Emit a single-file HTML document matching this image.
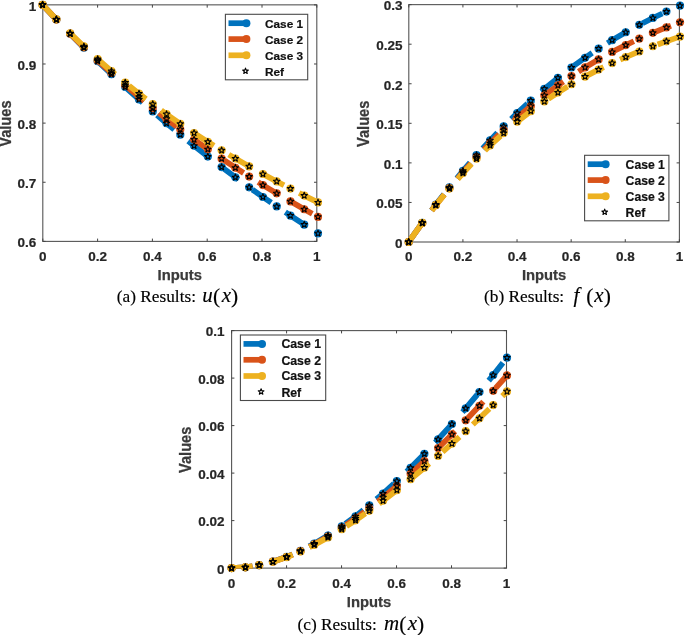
<!DOCTYPE html>
<html lang="en"><head><meta charset="utf-8"><title>Results</title>
<style>
html,body{margin:0;padding:0;background:#fff}
body{width:685px;height:635px;overflow:hidden}
svg{display:block;will-change:transform}
</style></head><body>
<svg width="685" height="635" viewBox="0 0 685 635">
<rect width="685" height="635" fill="#fff"/>
<clipPath id="clipa"><rect x="42.5" y="4.55" width="274.6" height="237.15"/></clipPath>
<rect x="42.8" y="4.85" width="274" height="236.55" fill="none" stroke="#555555" stroke-width="1.1"/>
<path d="M42.8 241.4v-2.8M42.8 4.85v2.8M97.6 241.4v-2.8M97.6 4.85v2.8M152.4 241.4v-2.8M152.4 4.85v2.8M207.2 241.4v-2.8M207.2 4.85v2.8M262 241.4v-2.8M262 4.85v2.8M316.8 241.4v-2.8M316.8 4.85v2.8M42.8 241.4h2.8M316.8 241.4h-2.8M42.8 182.26h2.8M316.8 182.26h-2.8M42.8 123.12h2.8M316.8 123.12h-2.8M42.8 63.99h2.8M316.8 63.99h-2.8M42.8 4.85h2.8M316.8 4.85h-2.8" stroke="#444" stroke-width="1" fill="none"/>
<g font-family="'Liberation Sans', sans-serif" font-weight="bold" font-size="13.5px" fill="#262626" stroke="#262626" stroke-width="0.2">
<text x="42.8" y="261" text-anchor="middle">0</text>
<text x="97.6" y="261" text-anchor="middle">0.2</text>
<text x="152.4" y="261" text-anchor="middle">0.4</text>
<text x="207.2" y="261" text-anchor="middle">0.6</text>
<text x="262" y="261" text-anchor="middle">0.8</text>
<text x="316.8" y="261" text-anchor="middle">1</text>
<text x="36.2" y="247.2" text-anchor="end">0.6</text>
<text x="36.2" y="188.06" text-anchor="end">0.7</text>
<text x="36.2" y="128.92" text-anchor="end">0.8</text>
<text x="36.2" y="69.79" text-anchor="end">0.9</text>
<text x="36.2" y="10.65" text-anchor="end">1</text>
</g>
<g font-family="'Liberation Sans', sans-serif" font-weight="bold" font-size="14.6px" fill="#3a3a3a" stroke="#3a3a3a" stroke-width="0.25">
<text x="179.8" y="280" font-size="14.8px" text-anchor="middle">Inputs</text>
<text transform="translate(11 123.62) rotate(-90) scale(1 1.1)" text-anchor="middle">Values</text>
</g>
<polyline clip-path="url(#clipa)" points="42.6,4.85 56.37,19.52 70.14,33.78 83.91,47.65 97.68,61.15 111.45,74.26 125.22,87.02 138.99,99.43 152.76,111.5 166.53,123.23 180.3,134.65 194.07,145.76 207.84,156.56 221.61,167.08 235.38,177.32 249.15,187.29 262.92,197 276.69,206.46 290.46,215.68 304.23,224.68 318,233.45" fill="none" stroke="#0072BD" stroke-width="5.7" stroke-dasharray="21 17.8 21 18.7 22 18 21.5 19 22.5 18 23 17.3 23 17.2 23 17 22.7 17.3 22.7 17.3 22.7 17.3" stroke-linejoin="round"/>
<g fill="#0072BD"><circle cx="42.6" cy="4.85" r="4.1"/><circle cx="56.37" cy="19.52" r="4.1"/><circle cx="70.14" cy="33.78" r="4.1"/><circle cx="83.91" cy="47.65" r="4.1"/><circle cx="97.68" cy="61.15" r="4.1"/><circle cx="111.45" cy="74.26" r="4.1"/><circle cx="125.22" cy="87.02" r="4.1"/><circle cx="138.99" cy="99.43" r="4.1"/><circle cx="152.76" cy="111.5" r="4.1"/><circle cx="166.53" cy="123.23" r="4.1"/><circle cx="180.3" cy="134.65" r="4.1"/><circle cx="194.07" cy="145.76" r="4.1"/><circle cx="207.84" cy="156.56" r="4.1"/><circle cx="221.61" cy="167.08" r="4.1"/><circle cx="235.38" cy="177.32" r="4.1"/><circle cx="249.15" cy="187.29" r="4.1"/><circle cx="262.92" cy="197" r="4.1"/><circle cx="276.69" cy="206.46" r="4.1"/><circle cx="290.46" cy="215.68" r="4.1"/><circle cx="304.23" cy="224.68" r="4.1"/><circle cx="318" cy="233.45" r="4.1"/></g>
<polyline clip-path="url(#clipa)" points="42.6,4.85 56.37,19.55 70.14,33.69 83.91,47.3 97.68,60.41 111.45,73.02 125.22,85.16 138.99,96.85 152.76,108.11 166.53,118.96 180.3,129.41 194.07,139.5 207.84,149.24 221.61,158.64 235.38,167.74 249.15,176.54 262.92,185.08 276.69,193.36 290.46,201.41 304.23,209.26 318,216.91" fill="none" stroke="#D95319" stroke-width="5.7" stroke-dasharray="21 17.8 21 18.7 22 18 21.5 19 22.5 18 23 17.3 23 17.2 23 17 22.7 17.3 22.7 17.3 22.7 17.3" stroke-linejoin="round"/>
<g fill="#D95319"><circle cx="42.6" cy="4.85" r="4.1"/><circle cx="56.37" cy="19.55" r="4.1"/><circle cx="70.14" cy="33.69" r="4.1"/><circle cx="83.91" cy="47.3" r="4.1"/><circle cx="97.68" cy="60.41" r="4.1"/><circle cx="111.45" cy="73.02" r="4.1"/><circle cx="125.22" cy="85.16" r="4.1"/><circle cx="138.99" cy="96.85" r="4.1"/><circle cx="152.76" cy="108.11" r="4.1"/><circle cx="166.53" cy="118.96" r="4.1"/><circle cx="180.3" cy="129.41" r="4.1"/><circle cx="194.07" cy="139.5" r="4.1"/><circle cx="207.84" cy="149.24" r="4.1"/><circle cx="221.61" cy="158.64" r="4.1"/><circle cx="235.38" cy="167.74" r="4.1"/><circle cx="249.15" cy="176.54" r="4.1"/><circle cx="262.92" cy="185.08" r="4.1"/><circle cx="276.69" cy="193.36" r="4.1"/><circle cx="290.46" cy="201.41" r="4.1"/><circle cx="304.23" cy="209.26" r="4.1"/><circle cx="318" cy="216.91" r="4.1"/></g>
<polyline clip-path="url(#clipa)" points="42.6,4.85 56.37,19.37 70.14,33.23 83.91,46.46 97.68,59.08 111.45,71.14 125.22,82.65 138.99,93.64 152.76,104.14 166.53,114.19 180.3,123.8 194.07,133.01 207.84,141.85 221.61,150.34 235.38,158.51 249.15,166.39 262.92,174.02 276.69,181.41 290.46,188.59 304.23,195.6 318,202.47" fill="none" stroke="#EDB120" stroke-width="5.7" stroke-dasharray="21 17.8 21 18.7 22 18 21.5 19 22.5 18 23 17.3 23 17.2 23 17 22.7 17.3 22.7 17.3 22.7 17.3" stroke-linejoin="round"/>
<g fill="#EDB120"><circle cx="42.6" cy="4.85" r="4.1"/><circle cx="56.37" cy="19.37" r="4.1"/><circle cx="70.14" cy="33.23" r="4.1"/><circle cx="83.91" cy="46.46" r="4.1"/><circle cx="97.68" cy="59.08" r="4.1"/><circle cx="111.45" cy="71.14" r="4.1"/><circle cx="125.22" cy="82.65" r="4.1"/><circle cx="138.99" cy="93.64" r="4.1"/><circle cx="152.76" cy="104.14" r="4.1"/><circle cx="166.53" cy="114.19" r="4.1"/><circle cx="180.3" cy="123.8" r="4.1"/><circle cx="194.07" cy="133.01" r="4.1"/><circle cx="207.84" cy="141.85" r="4.1"/><circle cx="221.61" cy="150.34" r="4.1"/><circle cx="235.38" cy="158.51" r="4.1"/><circle cx="249.15" cy="166.39" r="4.1"/><circle cx="262.92" cy="174.02" r="4.1"/><circle cx="276.69" cy="181.41" r="4.1"/><circle cx="290.46" cy="188.59" r="4.1"/><circle cx="304.23" cy="195.6" r="4.1"/><circle cx="318" cy="202.47" r="4.1"/></g>
<g fill="none" stroke="#000" stroke-width="1.1" stroke-linejoin="round">
<polygon points="42.6,1.5 43.42,3.72 45.79,3.81 43.93,5.28 44.57,7.56 42.6,6.25 40.63,7.56 41.27,5.28 39.41,3.81 41.78,3.72"/>
<polygon points="56.37,16.17 57.19,18.38 59.56,18.48 57.7,19.95 58.34,22.23 56.37,20.92 54.4,22.23 55.04,19.95 53.18,18.48 55.55,18.38"/>
<polygon points="70.14,30.43 70.96,32.65 73.33,32.75 71.47,34.21 72.11,36.49 70.14,35.18 68.17,36.49 68.81,34.21 66.95,32.75 69.32,32.65"/>
<polygon points="83.91,44.3 84.73,46.52 87.1,46.62 85.24,48.09 85.88,50.36 83.91,49.05 81.94,50.36 82.58,48.09 80.72,46.62 83.09,46.52"/>
<polygon points="97.68,57.8 98.5,60.01 100.87,60.11 99.01,61.58 99.65,63.86 97.68,62.55 95.71,63.86 96.35,61.58 94.49,60.11 96.86,60.01"/>
<polygon points="111.45,70.91 112.27,73.13 114.64,73.23 112.78,74.7 113.42,76.98 111.45,75.66 109.48,76.98 110.12,74.7 108.26,73.23 110.63,73.13"/>
<polygon points="125.22,83.67 126.04,85.89 128.41,85.99 126.55,87.46 127.19,89.73 125.22,88.42 123.25,89.73 123.89,87.46 122.03,85.99 124.4,85.89"/>
<polygon points="138.99,96.08 139.81,98.3 142.18,98.4 140.32,99.86 140.96,102.14 138.99,100.83 137.02,102.14 137.66,99.86 135.8,98.4 138.17,98.3"/>
<polygon points="152.76,108.15 153.58,110.36 155.95,110.46 154.09,111.93 154.73,114.21 152.76,112.9 150.79,114.21 151.43,111.93 149.57,110.46 151.94,110.36"/>
<polygon points="166.53,119.88 167.35,122.1 169.72,122.2 167.86,123.67 168.5,125.94 166.53,124.63 164.56,125.94 165.2,123.67 163.34,122.2 165.71,122.1"/>
<polygon points="180.3,131.3 181.12,133.52 183.49,133.61 181.63,135.08 182.27,137.36 180.3,136.05 178.33,137.36 178.97,135.08 177.11,133.61 179.48,133.52"/>
<polygon points="194.07,142.41 194.89,144.62 197.26,144.72 195.4,146.19 196.04,148.47 194.07,147.16 192.1,148.47 192.74,146.19 190.88,144.72 193.25,144.62"/>
<polygon points="207.84,153.21 208.66,155.43 211.03,155.53 209.17,156.99 209.81,159.27 207.84,157.96 205.87,159.27 206.51,156.99 204.65,155.53 207.02,155.43"/>
<polygon points="221.61,163.73 222.43,165.95 224.8,166.04 222.94,167.51 223.58,169.79 221.61,168.48 219.64,169.79 220.28,167.51 218.42,166.04 220.79,165.95"/>
<polygon points="235.38,173.97 236.2,176.18 238.57,176.28 236.71,177.75 237.35,180.03 235.38,178.72 233.41,180.03 234.05,177.75 232.19,176.28 234.56,176.18"/>
<polygon points="249.15,183.94 249.97,186.15 252.34,186.25 250.48,187.72 251.12,190 249.15,188.69 247.18,190 247.82,187.72 245.96,186.25 248.33,186.15"/>
<polygon points="262.92,193.65 263.74,195.86 266.11,195.96 264.25,197.43 264.89,199.71 262.92,198.4 260.95,199.71 261.59,197.43 259.73,195.96 262.1,195.86"/>
<polygon points="276.69,203.11 277.51,205.32 279.88,205.42 278.02,206.89 278.66,209.17 276.69,207.86 274.72,209.17 275.36,206.89 273.5,205.42 275.87,205.32"/>
<polygon points="290.46,212.33 291.28,214.55 293.65,214.64 291.79,216.11 292.43,218.39 290.46,217.08 288.49,218.39 289.13,216.11 287.27,214.64 289.64,214.55"/>
<polygon points="304.23,221.33 305.05,223.54 307.42,223.64 305.56,225.11 306.2,227.39 304.23,226.08 302.26,227.39 302.9,225.11 301.04,223.64 303.41,223.54"/>
<polygon points="318,230.1 318.82,232.32 321.19,232.42 319.33,233.89 319.97,236.16 318,234.85 316.03,236.16 316.67,233.89 314.81,232.42 317.18,232.32"/>
<polygon points="42.6,1.5 43.42,3.72 45.79,3.81 43.93,5.28 44.57,7.56 42.6,6.25 40.63,7.56 41.27,5.28 39.41,3.81 41.78,3.72"/>
<polygon points="56.37,16.2 57.19,18.41 59.56,18.51 57.7,19.98 58.34,22.26 56.37,20.95 54.4,22.26 55.04,19.98 53.18,18.51 55.55,18.41"/>
<polygon points="70.14,30.34 70.96,32.56 73.33,32.66 71.47,34.12 72.11,36.4 70.14,35.09 68.17,36.4 68.81,34.12 66.95,32.66 69.32,32.56"/>
<polygon points="83.91,43.95 84.73,46.17 87.1,46.27 85.24,47.74 85.88,50.01 83.91,48.7 81.94,50.01 82.58,47.74 80.72,46.27 83.09,46.17"/>
<polygon points="97.68,57.06 98.5,59.27 100.87,59.37 99.01,60.84 99.65,63.12 97.68,61.81 95.71,63.12 96.35,60.84 94.49,59.37 96.86,59.27"/>
<polygon points="111.45,69.67 112.27,71.89 114.64,71.98 112.78,73.45 113.42,75.73 111.45,74.42 109.48,75.73 110.12,73.45 108.26,71.98 110.63,71.89"/>
<polygon points="125.22,81.81 126.04,84.03 128.41,84.12 126.55,85.59 127.19,87.87 125.22,86.56 123.25,87.87 123.89,85.59 122.03,84.12 124.4,84.03"/>
<polygon points="138.99,93.5 139.81,95.72 142.18,95.81 140.32,97.28 140.96,99.56 138.99,98.25 137.02,99.56 137.66,97.28 135.8,95.81 138.17,95.72"/>
<polygon points="152.76,104.76 153.58,106.97 155.95,107.07 154.09,108.54 154.73,110.82 152.76,109.51 150.79,110.82 151.43,108.54 149.57,107.07 151.94,106.97"/>
<polygon points="166.53,115.61 167.35,117.82 169.72,117.92 167.86,119.39 168.5,121.67 166.53,120.36 164.56,121.67 165.2,119.39 163.34,117.92 165.71,117.82"/>
<polygon points="180.3,126.06 181.12,128.28 183.49,128.38 181.63,129.85 182.27,132.12 180.3,130.81 178.33,132.12 178.97,129.85 177.11,128.38 179.48,128.28"/>
<polygon points="194.07,136.15 194.89,138.37 197.26,138.46 195.4,139.93 196.04,142.21 194.07,140.9 192.1,142.21 192.74,139.93 190.88,138.46 193.25,138.37"/>
<polygon points="207.84,145.89 208.66,148.1 211.03,148.2 209.17,149.67 209.81,151.95 207.84,150.64 205.87,151.95 206.51,149.67 204.65,148.2 207.02,148.1"/>
<polygon points="221.61,155.29 222.43,157.51 224.8,157.61 222.94,159.07 223.58,161.35 221.61,160.04 219.64,161.35 220.28,159.07 218.42,157.61 220.79,157.51"/>
<polygon points="235.38,164.39 236.2,166.6 238.57,166.7 236.71,168.17 237.35,170.45 235.38,169.14 233.41,170.45 234.05,168.17 232.19,166.7 234.56,166.6"/>
<polygon points="249.15,173.19 249.97,175.41 252.34,175.51 250.48,176.97 251.12,179.25 249.15,177.94 247.18,179.25 247.82,176.97 245.96,175.51 248.33,175.41"/>
<polygon points="262.92,181.73 263.74,183.94 266.11,184.04 264.25,185.51 264.89,187.79 262.92,186.48 260.95,187.79 261.59,185.51 259.73,184.04 262.1,183.94"/>
<polygon points="276.69,190.01 277.51,192.23 279.88,192.33 278.02,193.79 278.66,196.07 276.69,194.76 274.72,196.07 275.36,193.79 273.5,192.33 275.87,192.23"/>
<polygon points="290.46,198.06 291.28,200.28 293.65,200.38 291.79,201.85 292.43,204.13 290.46,202.81 288.49,204.13 289.13,201.85 287.27,200.38 289.64,200.28"/>
<polygon points="304.23,205.91 305.05,208.13 307.42,208.22 305.56,209.69 306.2,211.97 304.23,210.66 302.26,211.97 302.9,209.69 301.04,208.22 303.41,208.13"/>
<polygon points="318,213.56 318.82,215.78 321.19,215.88 319.33,217.35 319.97,219.62 318,218.31 316.03,219.62 316.67,217.35 314.81,215.88 317.18,215.78"/>
<polygon points="42.6,1.5 43.42,3.72 45.79,3.81 43.93,5.28 44.57,7.56 42.6,6.25 40.63,7.56 41.27,5.28 39.41,3.81 41.78,3.72"/>
<polygon points="56.37,16.02 57.19,18.24 59.56,18.33 57.7,19.8 58.34,22.08 56.37,20.77 54.4,22.08 55.04,19.8 53.18,18.33 55.55,18.24"/>
<polygon points="70.14,29.88 70.96,32.1 73.33,32.19 71.47,33.66 72.11,35.94 70.14,34.63 68.17,35.94 68.81,33.66 66.95,32.19 69.32,32.1"/>
<polygon points="83.91,43.11 84.73,45.32 87.1,45.42 85.24,46.89 85.88,49.17 83.91,47.86 81.94,49.17 82.58,46.89 80.72,45.42 83.09,45.32"/>
<polygon points="97.68,55.73 98.5,57.95 100.87,58.05 99.01,59.52 99.65,61.79 97.68,60.48 95.71,61.79 96.35,59.52 94.49,58.05 96.86,57.95"/>
<polygon points="111.45,67.79 112.27,70.01 114.64,70.1 112.78,71.57 113.42,73.85 111.45,72.54 109.48,73.85 110.12,71.57 108.26,70.1 110.63,70.01"/>
<polygon points="125.22,79.3 126.04,81.51 128.41,81.61 126.55,83.08 127.19,85.36 125.22,84.05 123.25,85.36 123.89,83.08 122.03,81.61 124.4,81.51"/>
<polygon points="138.99,90.29 139.81,92.51 142.18,92.6 140.32,94.07 140.96,96.35 138.99,95.04 137.02,96.35 137.66,94.07 135.8,92.6 138.17,92.51"/>
<polygon points="152.76,100.79 153.58,103.01 155.95,103.11 154.09,104.58 154.73,106.85 152.76,105.54 150.79,106.85 151.43,104.58 149.57,103.11 151.94,103.01"/>
<polygon points="166.53,110.84 167.35,113.06 169.72,113.15 167.86,114.62 168.5,116.9 166.53,115.59 164.56,116.9 165.2,114.62 163.34,113.15 165.71,113.06"/>
<polygon points="180.3,120.45 181.12,122.67 183.49,122.77 181.63,124.23 182.27,126.51 180.3,125.2 178.33,126.51 178.97,124.23 177.11,122.77 179.48,122.67"/>
<polygon points="194.07,129.66 194.89,131.88 197.26,131.98 195.4,133.44 196.04,135.72 194.07,134.41 192.1,135.72 192.74,133.44 190.88,131.98 193.25,131.88"/>
<polygon points="207.84,138.5 208.66,140.71 211.03,140.81 209.17,142.28 209.81,144.56 207.84,143.25 205.87,144.56 206.51,142.28 204.65,140.81 207.02,140.71"/>
<polygon points="221.61,146.99 222.43,149.2 224.8,149.3 222.94,150.77 223.58,153.05 221.61,151.74 219.64,153.05 220.28,150.77 218.42,149.3 220.79,149.2"/>
<polygon points="235.38,155.16 236.2,157.38 238.57,157.47 236.71,158.94 237.35,161.22 235.38,159.91 233.41,161.22 234.05,158.94 232.19,157.47 234.56,157.38"/>
<polygon points="249.15,163.04 249.97,165.26 252.34,165.36 250.48,166.83 251.12,169.1 249.15,167.79 247.18,169.1 247.82,166.83 245.96,165.36 248.33,165.26"/>
<polygon points="262.92,170.67 263.74,172.88 266.11,172.98 264.25,174.45 264.89,176.73 262.92,175.42 260.95,176.73 261.59,174.45 259.73,172.98 262.1,172.88"/>
<polygon points="276.69,178.06 277.51,180.27 279.88,180.37 278.02,181.84 278.66,184.12 276.69,182.81 274.72,184.12 275.36,181.84 273.5,180.37 275.87,180.27"/>
<polygon points="290.46,185.24 291.28,187.46 293.65,187.56 291.79,189.03 292.43,191.3 290.46,189.99 288.49,191.3 289.13,189.03 287.27,187.56 289.64,187.46"/>
<polygon points="304.23,192.25 305.05,194.47 307.42,194.57 305.56,196.04 306.2,198.31 304.23,197 302.26,198.31 302.9,196.04 301.04,194.57 303.41,194.47"/>
<polygon points="318,199.12 318.82,201.34 321.19,201.43 319.33,202.9 319.97,205.18 318,203.87 316.03,205.18 316.67,202.9 314.81,201.43 317.18,201.34"/>
</g>
<rect x="225.4" y="14.3" width="82.3" height="65.5" fill="#fff" stroke="#4a4a4a" stroke-width="1.1"/>
<path d="M228.5 23.2H246.4" stroke="#0072BD" stroke-width="5.7"/>
<circle cx="246.4" cy="23.2" r="3.9999999999999996" fill="#0072BD"/>
<path d="M228.5 39.1H246.4" stroke="#D95319" stroke-width="5.7"/>
<circle cx="246.4" cy="39.1" r="3.9999999999999996" fill="#D95319"/>
<path d="M228.5 55.3H246.4" stroke="#EDB120" stroke-width="5.7"/>
<circle cx="246.4" cy="55.3" r="3.9999999999999996" fill="#EDB120"/>
<g fill="none" stroke="#000" stroke-width="1.1" stroke-linejoin="round"><polygon points="245.5,68.1 246.23,70.09 248.35,70.17 246.69,71.49 247.26,73.53 245.5,72.35 243.74,73.53 244.31,71.49 242.65,70.17 244.77,70.09"/></g>
<g font-family="'Liberation Sans', sans-serif" font-weight="bold" font-size="11.8px" fill="#111" stroke="#111" stroke-width="0.2">
<text x="265" y="28">Case 1</text>
<text x="265" y="44">Case 2</text>
<text x="265" y="60">Case 3</text>
<text x="265" y="76">Ref</text>
</g>
<text x="116.8" y="302" font-family="'Liberation Serif', serif" font-size="17.3px" fill="#000" stroke="#000" stroke-width="0.15">(a) Results:</text>
<g font-family="'Liberation Serif', serif" fill="#000" stroke="#000" stroke-width="0.15">
<text x="202.3" y="302" font-size="21px" font-style="italic">u</text>
<text x="213" y="302.6" font-size="21.5px">(</text>
<text x="221.7" y="302" font-size="21px" font-style="italic">x</text>
<text x="231" y="302.6" font-size="21.5px">)</text>
</g>
<clipPath id="clipb"><rect x="408.5" y="4.33" width="271.2" height="237.97"/></clipPath>
<rect x="408.8" y="4.63" width="270.6" height="237.37" fill="none" stroke="#555555" stroke-width="1.1"/>
<path d="M408.8 242v-2.8M408.8 4.63v2.8M462.92 242v-2.8M462.92 4.63v2.8M517.04 242v-2.8M517.04 4.63v2.8M571.16 242v-2.8M571.16 4.63v2.8M625.28 242v-2.8M625.28 4.63v2.8M679.4 242v-2.8M679.4 4.63v2.8M408.8 242h2.8M679.4 242h-2.8M408.8 202.44h2.8M679.4 202.44h-2.8M408.8 162.88h2.8M679.4 162.88h-2.8M408.8 123.31h2.8M679.4 123.31h-2.8M408.8 83.75h2.8M679.4 83.75h-2.8M408.8 44.19h2.8M679.4 44.19h-2.8M408.8 4.63h2.8M679.4 4.63h-2.8" stroke="#444" stroke-width="1" fill="none"/>
<g font-family="'Liberation Sans', sans-serif" font-weight="bold" font-size="13.5px" fill="#262626" stroke="#262626" stroke-width="0.2">
<text x="408.8" y="261" text-anchor="middle">0</text>
<text x="462.92" y="261" text-anchor="middle">0.2</text>
<text x="517.04" y="261" text-anchor="middle">0.4</text>
<text x="571.16" y="261" text-anchor="middle">0.6</text>
<text x="625.28" y="261" text-anchor="middle">0.8</text>
<text x="679.4" y="261" text-anchor="middle">1</text>
<text x="402.5" y="247.8" text-anchor="end">0</text>
<text x="402.5" y="208.24" text-anchor="end">0.05</text>
<text x="402.5" y="168.68" text-anchor="end">0.1</text>
<text x="402.5" y="129.12" text-anchor="end">0.15</text>
<text x="402.5" y="89.55" text-anchor="end">0.2</text>
<text x="402.5" y="49.99" text-anchor="end">0.25</text>
<text x="402.5" y="10.43" text-anchor="end">0.3</text>
</g>
<g font-family="'Liberation Sans', sans-serif" font-weight="bold" font-size="14.6px" fill="#3a3a3a" stroke="#3a3a3a" stroke-width="0.25">
<text x="544.1" y="280" font-size="14.8px" text-anchor="middle">Inputs</text>
<text transform="translate(369.2 123.81) rotate(-90) scale(1 1.1)" text-anchor="middle">Values</text>
</g>
<polyline clip-path="url(#clipb)" points="408.7,242 422.26,222.84 435.83,204.6 449.39,187.26 462.96,170.79 476.52,155.17 490.09,140.38 503.65,126.38 517.22,113.16 530.78,100.69 544.35,88.94 557.91,77.89 571.48,67.51 585.05,57.78 598.61,48.67 612.17,40.16 625.74,32.23 639.31,24.84 652.87,17.97 666.43,11.61 680,5.71" fill="none" stroke="#0072BD" stroke-width="5.7" stroke-dasharray="21 17.95 20.5 20.45 20.5 18.95 21.5 19.45 22.5 18.45 22.8 18.15 22.8 18.15 22.2 18.25 22 18.45 22 18.45 22 18.45" stroke-linejoin="round"/>
<g fill="#0072BD"><circle cx="408.7" cy="242" r="4.1"/><circle cx="422.26" cy="222.84" r="4.1"/><circle cx="435.83" cy="204.6" r="4.1"/><circle cx="449.39" cy="187.26" r="4.1"/><circle cx="462.96" cy="170.79" r="4.1"/><circle cx="476.52" cy="155.17" r="4.1"/><circle cx="490.09" cy="140.38" r="4.1"/><circle cx="503.65" cy="126.38" r="4.1"/><circle cx="517.22" cy="113.16" r="4.1"/><circle cx="530.78" cy="100.69" r="4.1"/><circle cx="544.35" cy="88.94" r="4.1"/><circle cx="557.91" cy="77.89" r="4.1"/><circle cx="571.48" cy="67.51" r="4.1"/><circle cx="585.05" cy="57.78" r="4.1"/><circle cx="598.61" cy="48.67" r="4.1"/><circle cx="612.17" cy="40.16" r="4.1"/><circle cx="625.74" cy="32.23" r="4.1"/><circle cx="639.31" cy="24.84" r="4.1"/><circle cx="652.87" cy="17.97" r="4.1"/><circle cx="666.43" cy="11.61" r="4.1"/><circle cx="680" cy="5.71" r="4.1"/></g>
<polyline clip-path="url(#clipb)" points="408.7,242 422.26,223.01 435.83,205.07 449.39,188.16 462.96,172.24 476.52,157.27 490.09,143.22 503.65,130.04 517.22,117.71 530.78,106.19 544.35,95.43 557.91,85.42 571.48,76.1 585.05,67.44 598.61,59.41 612.17,51.97 625.74,45.09 639.31,38.72 652.87,32.83 666.43,27.39 680,22.36" fill="none" stroke="#D95319" stroke-width="5.7" stroke-dasharray="21 17.95 20.5 20.45 20.5 18.95 21.5 19.45 22.5 18.45 22.8 18.15 22.8 18.15 22.2 18.25 22 18.45 22 18.45 22 18.45" stroke-linejoin="round"/>
<g fill="#D95319"><circle cx="408.7" cy="242" r="4.1"/><circle cx="422.26" cy="223.01" r="4.1"/><circle cx="435.83" cy="205.07" r="4.1"/><circle cx="449.39" cy="188.16" r="4.1"/><circle cx="462.96" cy="172.24" r="4.1"/><circle cx="476.52" cy="157.27" r="4.1"/><circle cx="490.09" cy="143.22" r="4.1"/><circle cx="503.65" cy="130.04" r="4.1"/><circle cx="517.22" cy="117.71" r="4.1"/><circle cx="530.78" cy="106.19" r="4.1"/><circle cx="544.35" cy="95.43" r="4.1"/><circle cx="557.91" cy="85.42" r="4.1"/><circle cx="571.48" cy="76.1" r="4.1"/><circle cx="585.05" cy="67.44" r="4.1"/><circle cx="598.61" cy="59.41" r="4.1"/><circle cx="612.17" cy="51.97" r="4.1"/><circle cx="625.74" cy="45.09" r="4.1"/><circle cx="639.31" cy="38.72" r="4.1"/><circle cx="652.87" cy="32.83" r="4.1"/><circle cx="666.43" cy="27.39" r="4.1"/><circle cx="680" cy="22.36" r="4.1"/></g>
<polyline clip-path="url(#clipb)" points="408.7,242 422.26,222.93 435.83,205.13 449.39,188.53 462.96,173.09 476.52,158.74 490.09,145.43 503.65,133.11 517.22,121.71 530.78,111.18 544.35,101.46 557.91,92.5 571.48,84.24 585.05,76.63 598.61,69.6 612.17,63.1 625.74,57.08 639.31,51.48 652.87,46.24 666.43,41.31 680,36.63" fill="none" stroke="#EDB120" stroke-width="5.7" stroke-dasharray="21 17.95 20.5 20.45 20.5 18.95 21.5 19.45 22.5 18.45 22.8 18.15 22.8 18.15 22.2 18.25 22 18.45 22 18.45 22 18.45" stroke-linejoin="round"/>
<g fill="#EDB120"><circle cx="408.7" cy="242" r="4.1"/><circle cx="422.26" cy="222.93" r="4.1"/><circle cx="435.83" cy="205.13" r="4.1"/><circle cx="449.39" cy="188.53" r="4.1"/><circle cx="462.96" cy="173.09" r="4.1"/><circle cx="476.52" cy="158.74" r="4.1"/><circle cx="490.09" cy="145.43" r="4.1"/><circle cx="503.65" cy="133.11" r="4.1"/><circle cx="517.22" cy="121.71" r="4.1"/><circle cx="530.78" cy="111.18" r="4.1"/><circle cx="544.35" cy="101.46" r="4.1"/><circle cx="557.91" cy="92.5" r="4.1"/><circle cx="571.48" cy="84.24" r="4.1"/><circle cx="585.05" cy="76.63" r="4.1"/><circle cx="598.61" cy="69.6" r="4.1"/><circle cx="612.17" cy="63.1" r="4.1"/><circle cx="625.74" cy="57.08" r="4.1"/><circle cx="639.31" cy="51.48" r="4.1"/><circle cx="652.87" cy="46.24" r="4.1"/><circle cx="666.43" cy="41.31" r="4.1"/><circle cx="680" cy="36.63" r="4.1"/></g>
<g fill="none" stroke="#000" stroke-width="1.1" stroke-linejoin="round">
<polygon points="408.7,238.65 409.52,240.87 411.89,240.96 410.03,242.43 410.67,244.71 408.7,243.4 406.73,244.71 407.37,242.43 405.51,240.96 407.88,240.87"/>
<polygon points="422.26,219.49 423.09,221.7 425.45,221.8 423.6,223.27 424.23,225.55 422.26,224.24 420.3,225.55 420.93,223.27 419.08,221.8 421.44,221.7"/>
<polygon points="435.83,201.25 436.65,203.47 439.02,203.56 437.16,205.03 437.8,207.31 435.83,206 433.86,207.31 434.5,205.03 432.64,203.56 435.01,203.47"/>
<polygon points="449.39,183.91 450.22,186.12 452.58,186.22 450.73,187.69 451.36,189.97 449.39,188.66 447.43,189.97 448.06,187.69 446.21,186.22 448.57,186.12"/>
<polygon points="462.96,167.44 463.78,169.66 466.15,169.76 464.29,171.22 464.93,173.5 462.96,172.19 460.99,173.5 461.63,171.22 459.77,169.76 462.14,169.66"/>
<polygon points="476.52,151.82 477.35,154.04 479.71,154.14 477.86,155.61 478.49,157.88 476.52,156.57 474.56,157.88 475.19,155.61 473.34,154.14 475.7,154.04"/>
<polygon points="490.09,137.03 490.91,139.25 493.28,139.34 491.42,140.81 492.06,143.09 490.09,141.78 488.12,143.09 488.76,140.81 486.9,139.34 489.27,139.25"/>
<polygon points="503.65,123.03 504.48,125.25 506.84,125.35 504.99,126.82 505.62,129.09 503.65,127.78 501.69,129.09 502.32,126.82 500.47,125.35 502.83,125.25"/>
<polygon points="517.22,109.81 518.04,112.03 520.41,112.13 518.55,113.59 519.19,115.87 517.22,114.56 515.25,115.87 515.89,113.59 514.03,112.13 516.4,112.03"/>
<polygon points="530.78,97.34 531.61,99.55 533.97,99.65 532.12,101.12 532.75,103.4 530.78,102.09 528.82,103.4 529.45,101.12 527.6,99.65 529.96,99.55"/>
<polygon points="544.35,85.59 545.17,87.8 547.54,87.9 545.68,89.37 546.32,91.65 544.35,90.34 542.38,91.65 543.02,89.37 541.16,87.9 543.53,87.8"/>
<polygon points="557.91,74.54 558.74,76.75 561.1,76.85 559.25,78.32 559.88,80.6 557.91,79.29 555.95,80.6 556.58,78.32 554.73,76.85 557.09,76.75"/>
<polygon points="571.48,64.16 572.3,66.37 574.67,66.47 572.81,67.94 573.45,70.22 571.48,68.91 569.51,70.22 570.15,67.94 568.29,66.47 570.66,66.37"/>
<polygon points="585.05,54.43 585.87,56.64 588.23,56.74 586.38,58.21 587.01,60.49 585.05,59.18 583.08,60.49 583.71,58.21 581.86,56.74 584.22,56.64"/>
<polygon points="598.61,45.32 599.43,47.54 601.8,47.63 599.94,49.1 600.58,51.38 598.61,50.07 596.64,51.38 597.28,49.1 595.42,47.63 597.79,47.54"/>
<polygon points="612.17,36.81 613,39.03 615.36,39.13 613.51,40.59 614.14,42.87 612.17,41.56 610.21,42.87 610.84,40.59 608.99,39.13 611.35,39.03"/>
<polygon points="625.74,28.88 626.56,31.09 628.93,31.19 627.07,32.66 627.71,34.94 625.74,33.63 623.77,34.94 624.41,32.66 622.55,31.19 624.92,31.09"/>
<polygon points="639.31,21.49 640.13,23.71 642.49,23.8 640.64,25.27 641.27,27.55 639.31,26.24 637.34,27.55 637.97,25.27 636.12,23.8 638.48,23.71"/>
<polygon points="652.87,14.62 653.69,16.84 656.06,16.94 654.2,18.41 654.84,20.68 652.87,19.37 650.9,20.68 651.54,18.41 649.68,16.94 652.05,16.84"/>
<polygon points="666.43,8.26 667.26,10.48 669.62,10.57 667.77,12.04 668.4,14.32 666.43,13.01 664.47,14.32 665.1,12.04 663.25,10.57 665.61,10.48"/>
<polygon points="680,2.36 680.82,4.58 683.19,4.68 681.33,6.15 681.97,8.42 680,7.11 678.03,8.42 678.67,6.15 676.81,4.68 679.18,4.58"/>
<polygon points="408.7,238.65 409.52,240.87 411.89,240.96 410.03,242.43 410.67,244.71 408.7,243.4 406.73,244.71 407.37,242.43 405.51,240.96 407.88,240.87"/>
<polygon points="422.26,219.66 423.09,221.87 425.45,221.97 423.6,223.44 424.23,225.72 422.26,224.41 420.3,225.72 420.93,223.44 419.08,221.97 421.44,221.87"/>
<polygon points="435.83,201.72 436.65,203.94 439.02,204.04 437.16,205.5 437.8,207.78 435.83,206.47 433.86,207.78 434.5,205.5 432.64,204.04 435.01,203.94"/>
<polygon points="449.39,184.81 450.22,187.03 452.58,187.13 450.73,188.6 451.36,190.87 449.39,189.56 447.43,190.87 448.06,188.6 446.21,187.13 448.57,187.03"/>
<polygon points="462.96,168.89 463.78,171.11 466.15,171.21 464.29,172.67 464.93,174.95 462.96,173.64 460.99,174.95 461.63,172.67 459.77,171.21 462.14,171.11"/>
<polygon points="476.52,153.92 477.35,156.14 479.71,156.24 477.86,157.7 478.49,159.98 476.52,158.67 474.56,159.98 475.19,157.7 473.34,156.24 475.7,156.14"/>
<polygon points="490.09,139.87 490.91,142.08 493.28,142.18 491.42,143.65 492.06,145.93 490.09,144.62 488.12,145.93 488.76,143.65 486.9,142.18 489.27,142.08"/>
<polygon points="503.65,126.69 504.48,128.91 506.84,129.01 504.99,130.48 505.62,132.75 503.65,131.44 501.69,132.75 502.32,130.48 500.47,129.01 502.83,128.91"/>
<polygon points="517.22,114.36 518.04,116.58 520.41,116.68 518.55,118.14 519.19,120.42 517.22,119.11 515.25,120.42 515.89,118.14 514.03,116.68 516.4,116.58"/>
<polygon points="530.78,102.84 531.61,105.06 533.97,105.15 532.12,106.62 532.75,108.9 530.78,107.59 528.82,108.9 529.45,106.62 527.6,105.15 529.96,105.06"/>
<polygon points="544.35,92.08 545.17,94.3 547.54,94.4 545.68,95.87 546.32,98.15 544.35,96.83 542.38,98.15 543.02,95.87 541.16,94.4 543.53,94.3"/>
<polygon points="557.91,82.07 558.74,84.28 561.1,84.38 559.25,85.85 559.88,88.13 557.91,86.82 555.95,88.13 556.58,85.85 554.73,84.38 557.09,84.28"/>
<polygon points="571.48,72.75 572.3,74.97 574.67,75.06 572.81,76.53 573.45,78.81 571.48,77.5 569.51,78.81 570.15,76.53 568.29,75.06 570.66,74.97"/>
<polygon points="585.05,64.09 585.87,66.31 588.23,66.41 586.38,67.87 587.01,70.15 585.05,68.84 583.08,70.15 583.71,67.87 581.86,66.41 584.22,66.31"/>
<polygon points="598.61,56.06 599.43,58.28 601.8,58.38 599.94,59.84 600.58,62.12 598.61,60.81 596.64,62.12 597.28,59.84 595.42,58.38 597.79,58.28"/>
<polygon points="612.17,48.62 613,50.84 615.36,50.94 613.51,52.4 614.14,54.68 612.17,53.37 610.21,54.68 610.84,52.4 608.99,50.94 611.35,50.84"/>
<polygon points="625.74,41.74 626.56,43.95 628.93,44.05 627.07,45.52 627.71,47.8 625.74,46.49 623.77,47.8 624.41,45.52 622.55,44.05 624.92,43.95"/>
<polygon points="639.31,35.37 640.13,37.59 642.49,37.68 640.64,39.15 641.27,41.43 639.31,40.12 637.34,41.43 637.97,39.15 636.12,37.68 638.48,37.59"/>
<polygon points="652.87,29.48 653.69,31.7 656.06,31.8 654.2,33.27 654.84,35.54 652.87,34.23 650.9,35.54 651.54,33.27 649.68,31.8 652.05,31.7"/>
<polygon points="666.43,24.04 667.26,26.26 669.62,26.36 667.77,27.83 668.4,30.1 666.43,28.79 664.47,30.1 665.1,27.83 663.25,26.36 665.61,26.26"/>
<polygon points="680,19.01 680.82,21.23 683.19,21.33 681.33,22.8 681.97,25.07 680,23.76 678.03,25.07 678.67,22.8 676.81,21.33 679.18,21.23"/>
<polygon points="408.7,238.65 409.52,240.87 411.89,240.96 410.03,242.43 410.67,244.71 408.7,243.4 406.73,244.71 407.37,242.43 405.51,240.96 407.88,240.87"/>
<polygon points="422.26,219.58 423.09,221.8 425.45,221.9 423.6,223.36 424.23,225.64 422.26,224.33 420.3,225.64 420.93,223.36 419.08,221.9 421.44,221.8"/>
<polygon points="435.83,201.78 436.65,204 439.02,204.09 437.16,205.56 437.8,207.84 435.83,206.53 433.86,207.84 434.5,205.56 432.64,204.09 435.01,204"/>
<polygon points="449.39,185.18 450.22,187.4 452.58,187.5 450.73,188.97 451.36,191.24 449.39,189.93 447.43,191.24 448.06,188.97 446.21,187.5 448.57,187.4"/>
<polygon points="462.96,169.74 463.78,171.96 466.15,172.05 464.29,173.52 464.93,175.8 462.96,174.49 460.99,175.8 461.63,173.52 459.77,172.05 462.14,171.96"/>
<polygon points="476.52,155.39 477.35,157.61 479.71,157.71 477.86,159.17 478.49,161.45 476.52,160.14 474.56,161.45 475.19,159.17 473.34,157.71 475.7,157.61"/>
<polygon points="490.09,142.08 490.91,144.3 493.28,144.4 491.42,145.86 492.06,148.14 490.09,146.83 488.12,148.14 488.76,145.86 486.9,144.4 489.27,144.3"/>
<polygon points="503.65,129.76 504.48,131.97 506.84,132.07 504.99,133.54 505.62,135.82 503.65,134.51 501.69,135.82 502.32,133.54 500.47,132.07 502.83,131.97"/>
<polygon points="517.22,118.36 518.04,120.57 520.41,120.67 518.55,122.14 519.19,124.42 517.22,123.11 515.25,124.42 515.89,122.14 514.03,120.67 516.4,120.57"/>
<polygon points="530.78,107.83 531.61,110.04 533.97,110.14 532.12,111.61 532.75,113.89 530.78,112.58 528.82,113.89 529.45,111.61 527.6,110.14 529.96,110.04"/>
<polygon points="544.35,98.11 545.17,100.33 547.54,100.42 545.68,101.89 546.32,104.17 544.35,102.86 542.38,104.17 543.02,101.89 541.16,100.42 543.53,100.33"/>
<polygon points="557.91,89.15 558.74,91.37 561.1,91.46 559.25,92.93 559.88,95.21 557.91,93.9 555.95,95.21 556.58,92.93 554.73,91.46 557.09,91.37"/>
<polygon points="571.48,80.89 572.3,83.11 574.67,83.21 572.81,84.67 573.45,86.95 571.48,85.64 569.51,86.95 570.15,84.67 568.29,83.21 570.66,83.11"/>
<polygon points="585.05,73.28 585.87,75.49 588.23,75.59 586.38,77.06 587.01,79.34 585.05,78.03 583.08,79.34 583.71,77.06 581.86,75.59 584.22,75.49"/>
<polygon points="598.61,66.25 599.43,68.47 601.8,68.56 599.94,70.03 600.58,72.31 598.61,71 596.64,72.31 597.28,70.03 595.42,68.56 597.79,68.47"/>
<polygon points="612.17,59.75 613,61.97 615.36,62.07 613.51,63.54 614.14,65.81 612.17,64.5 610.21,65.81 610.84,63.54 608.99,62.07 611.35,61.97"/>
<polygon points="625.74,53.73 626.56,55.95 628.93,56.05 627.07,57.52 627.71,59.79 625.74,58.48 623.77,59.79 624.41,57.52 622.55,56.05 624.92,55.95"/>
<polygon points="639.31,48.13 640.13,50.35 642.49,50.45 640.64,51.92 641.27,54.19 639.31,52.88 637.34,54.19 637.97,51.92 636.12,50.45 638.48,50.35"/>
<polygon points="652.87,42.89 653.69,45.11 656.06,45.21 654.2,46.68 654.84,48.95 652.87,47.64 650.9,48.95 651.54,46.68 649.68,45.21 652.05,45.11"/>
<polygon points="666.43,37.96 667.26,40.18 669.62,40.27 667.77,41.74 668.4,44.02 666.43,42.71 664.47,44.02 665.1,41.74 663.25,40.27 665.61,40.18"/>
<polygon points="680,33.28 680.82,35.49 683.19,35.59 681.33,37.06 681.97,39.34 680,38.03 678.03,39.34 678.67,37.06 676.81,35.59 679.18,35.49"/>
</g>
<rect x="584.6" y="155.3" width="84.3" height="65.5" fill="#fff" stroke="#4a4a4a" stroke-width="1.1"/>
<path d="M587.7 164.2H605.6" stroke="#0072BD" stroke-width="5.7"/>
<circle cx="605.6" cy="164.2" r="3.9999999999999996" fill="#0072BD"/>
<path d="M587.7 180.1H605.6" stroke="#D95319" stroke-width="5.7"/>
<circle cx="605.6" cy="180.1" r="3.9999999999999996" fill="#D95319"/>
<path d="M587.7 196.3H605.6" stroke="#EDB120" stroke-width="5.7"/>
<circle cx="605.6" cy="196.3" r="3.9999999999999996" fill="#EDB120"/>
<g fill="none" stroke="#000" stroke-width="1.1" stroke-linejoin="round"><polygon points="604.7,209.1 605.43,211.09 607.55,211.17 605.89,212.49 606.46,214.53 604.7,213.35 602.94,214.53 603.51,212.49 601.85,211.17 603.97,211.09"/></g>
<g font-family="'Liberation Sans', sans-serif" font-weight="bold" font-size="12.2px" fill="#111" stroke="#111" stroke-width="0.2">
<text x="625.6" y="169">Case 1</text>
<text x="625.6" y="185">Case 2</text>
<text x="625.6" y="201">Case 3</text>
<text x="625.6" y="217">Ref</text>
</g>
<text x="484" y="302" font-family="'Liberation Serif', serif" font-size="17.3px" fill="#000" stroke="#000" stroke-width="0.15">(b) Results:</text>
<g font-family="'Liberation Serif', serif" fill="#000" stroke="#000" stroke-width="0.15">
<text x="573.5" y="302" font-size="21px" font-style="italic">f</text>
<text x="586.3" y="302.6" font-size="21.5px">(</text>
<text x="594.2" y="302" font-size="21px" font-style="italic">x</text>
<text x="603.8" y="302.6" font-size="21.5px">)</text>
</g>
<clipPath id="clipc"><rect x="231.3" y="330.3" width="275.5" height="238.1"/></clipPath>
<rect x="231.6" y="330.6" width="274.9" height="237.5" fill="none" stroke="#555555" stroke-width="1.1"/>
<path d="M231.6 568.1v-2.8M231.6 330.6v2.8M286.58 568.1v-2.8M286.58 330.6v2.8M341.56 568.1v-2.8M341.56 330.6v2.8M396.54 568.1v-2.8M396.54 330.6v2.8M451.52 568.1v-2.8M451.52 330.6v2.8M506.5 568.1v-2.8M506.5 330.6v2.8M231.6 568.1h2.8M506.5 568.1h-2.8M231.6 520.6h2.8M506.5 520.6h-2.8M231.6 473.1h2.8M506.5 473.1h-2.8M231.6 425.6h2.8M506.5 425.6h-2.8M231.6 378.1h2.8M506.5 378.1h-2.8M231.6 330.6h2.8M506.5 330.6h-2.8" stroke="#444" stroke-width="1" fill="none"/>
<g font-family="'Liberation Sans', sans-serif" font-weight="bold" font-size="13.5px" fill="#262626" stroke="#262626" stroke-width="0.2">
<text x="231.6" y="588" text-anchor="middle">0</text>
<text x="286.58" y="588" text-anchor="middle">0.2</text>
<text x="341.56" y="588" text-anchor="middle">0.4</text>
<text x="396.54" y="588" text-anchor="middle">0.6</text>
<text x="451.52" y="588" text-anchor="middle">0.8</text>
<text x="506.5" y="588" text-anchor="middle">1</text>
<text x="224.6" y="573.9" text-anchor="end">0</text>
<text x="224.6" y="526.4" text-anchor="end">0.02</text>
<text x="224.6" y="478.9" text-anchor="end">0.04</text>
<text x="224.6" y="431.4" text-anchor="end">0.06</text>
<text x="224.6" y="383.9" text-anchor="end">0.08</text>
<text x="224.6" y="336.4" text-anchor="end">0.1</text>
</g>
<g font-family="'Liberation Sans', sans-serif" font-weight="bold" font-size="14.6px" fill="#3a3a3a" stroke="#3a3a3a" stroke-width="0.25">
<text x="369.05" y="607" font-size="14.8px" text-anchor="middle">Inputs</text>
<text transform="translate(191.2 449.85) rotate(-90) scale(1 1.1)" text-anchor="middle">Values</text>
</g>
<polyline clip-path="url(#clipc)" points="231.6,568.1 245.37,567.35 259.14,565.16 272.91,561.61 286.68,556.8 300.45,550.79 314.22,543.66 327.99,535.49 341.76,526.33 355.53,516.25 369.3,505.31 383.07,493.55 396.84,481.03 410.61,467.79 424.38,453.87 438.15,439.3 451.92,424.11 465.69,408.34 479.46,392 493.23,375.1 507,357.68" fill="none" stroke="#0072BD" stroke-width="5.7" stroke-dasharray="21 18.9 23 18.4 24.5 18.2 22.7 16.9 23.5 17.4 23.3 17.6 22.8 18.1 22.8 18.1 22.8 18.1 22.8 18.1 22.8 18.1" stroke-linejoin="round"/>
<g fill="#0072BD"><circle cx="231.6" cy="568.1" r="4.1"/><circle cx="245.37" cy="567.35" r="4.1"/><circle cx="259.14" cy="565.16" r="4.1"/><circle cx="272.91" cy="561.61" r="4.1"/><circle cx="286.68" cy="556.8" r="4.1"/><circle cx="300.45" cy="550.79" r="4.1"/><circle cx="314.22" cy="543.66" r="4.1"/><circle cx="327.99" cy="535.49" r="4.1"/><circle cx="341.76" cy="526.33" r="4.1"/><circle cx="355.53" cy="516.25" r="4.1"/><circle cx="369.3" cy="505.31" r="4.1"/><circle cx="383.07" cy="493.55" r="4.1"/><circle cx="396.84" cy="481.03" r="4.1"/><circle cx="410.61" cy="467.79" r="4.1"/><circle cx="424.38" cy="453.87" r="4.1"/><circle cx="438.15" cy="439.3" r="4.1"/><circle cx="451.92" cy="424.11" r="4.1"/><circle cx="465.69" cy="408.34" r="4.1"/><circle cx="479.46" cy="392" r="4.1"/><circle cx="493.23" cy="375.1" r="4.1"/><circle cx="507" cy="357.68" r="4.1"/></g>
<polyline clip-path="url(#clipc)" points="231.6,568.1 245.37,567.35 259.14,565.19 272.91,561.71 286.68,557.01 300.45,551.2 314.22,544.36 327.99,536.58 341.76,527.92 355.53,518.47 369.3,508.27 383.07,497.4 396.84,485.9 410.61,473.82 424.38,461.19 438.15,448.05 451.92,434.43 465.69,420.35 479.46,405.81 493.23,390.84 507,375.42" fill="none" stroke="#D95319" stroke-width="5.7" stroke-dasharray="21 18.9 23 18.4 24.5 18.2 22.7 16.9 23.5 17.4 23.3 17.6 22.8 18.1 22.8 18.1 22.8 18.1 22.8 18.1 22.8 18.1" stroke-linejoin="round"/>
<g fill="#D95319"><circle cx="231.6" cy="568.1" r="4.1"/><circle cx="245.37" cy="567.35" r="4.1"/><circle cx="259.14" cy="565.19" r="4.1"/><circle cx="272.91" cy="561.71" r="4.1"/><circle cx="286.68" cy="557.01" r="4.1"/><circle cx="300.45" cy="551.2" r="4.1"/><circle cx="314.22" cy="544.36" r="4.1"/><circle cx="327.99" cy="536.58" r="4.1"/><circle cx="341.76" cy="527.92" r="4.1"/><circle cx="355.53" cy="518.47" r="4.1"/><circle cx="369.3" cy="508.27" r="4.1"/><circle cx="383.07" cy="497.4" r="4.1"/><circle cx="396.84" cy="485.9" r="4.1"/><circle cx="410.61" cy="473.82" r="4.1"/><circle cx="424.38" cy="461.19" r="4.1"/><circle cx="438.15" cy="448.05" r="4.1"/><circle cx="451.92" cy="434.43" r="4.1"/><circle cx="465.69" cy="420.35" r="4.1"/><circle cx="479.46" cy="405.81" r="4.1"/><circle cx="493.23" cy="390.84" r="4.1"/><circle cx="507" cy="375.42" r="4.1"/></g>
<polyline clip-path="url(#clipc)" points="231.6,568.1 245.37,567.35 259.14,565.19 272.91,561.74 286.68,557.14 300.45,551.48 314.22,544.88 327.99,537.42 341.76,529.21 355.53,520.3 369.3,510.79 383.07,500.72 396.84,490.15 410.61,479.13 424.38,467.7 438.15,455.88 451.92,443.7 465.69,431.16 479.46,418.28 493.23,405.05 507,391.46" fill="none" stroke="#EDB120" stroke-width="5.7" stroke-dasharray="21 18.9 23 18.4 24.5 18.2 22.7 16.9 23.5 17.4 23.3 17.6 22.8 18.1 22.8 18.1 22.8 18.1 22.8 18.1 22.8 18.1" stroke-linejoin="round"/>
<g fill="#EDB120"><circle cx="231.6" cy="568.1" r="4.1"/><circle cx="245.37" cy="567.35" r="4.1"/><circle cx="259.14" cy="565.19" r="4.1"/><circle cx="272.91" cy="561.74" r="4.1"/><circle cx="286.68" cy="557.14" r="4.1"/><circle cx="300.45" cy="551.48" r="4.1"/><circle cx="314.22" cy="544.88" r="4.1"/><circle cx="327.99" cy="537.42" r="4.1"/><circle cx="341.76" cy="529.21" r="4.1"/><circle cx="355.53" cy="520.3" r="4.1"/><circle cx="369.3" cy="510.79" r="4.1"/><circle cx="383.07" cy="500.72" r="4.1"/><circle cx="396.84" cy="490.15" r="4.1"/><circle cx="410.61" cy="479.13" r="4.1"/><circle cx="424.38" cy="467.7" r="4.1"/><circle cx="438.15" cy="455.88" r="4.1"/><circle cx="451.92" cy="443.7" r="4.1"/><circle cx="465.69" cy="431.16" r="4.1"/><circle cx="479.46" cy="418.28" r="4.1"/><circle cx="493.23" cy="405.05" r="4.1"/><circle cx="507" cy="391.46" r="4.1"/></g>
<g fill="none" stroke="#000" stroke-width="1.1" stroke-linejoin="round">
<polygon points="231.6,564.75 232.42,566.97 234.79,567.06 232.93,568.53 233.57,570.81 231.6,569.5 229.63,570.81 230.27,568.53 228.41,567.06 230.78,566.97"/>
<polygon points="245.37,564 246.19,566.22 248.56,566.31 246.7,567.78 247.34,570.06 245.37,568.75 243.4,570.06 244.04,567.78 242.18,566.31 244.55,566.22"/>
<polygon points="259.14,561.81 259.96,564.03 262.33,564.12 260.47,565.59 261.11,567.87 259.14,566.56 257.17,567.87 257.81,565.59 255.95,564.12 258.32,564.03"/>
<polygon points="272.91,558.26 273.73,560.48 276.1,560.58 274.24,562.05 274.88,564.32 272.91,563.01 270.94,564.32 271.58,562.05 269.72,560.58 272.09,560.48"/>
<polygon points="286.68,553.45 287.5,555.66 289.87,555.76 288.01,557.23 288.65,559.51 286.68,558.2 284.71,559.51 285.35,557.23 283.49,555.76 285.86,555.66"/>
<polygon points="300.45,547.44 301.27,549.66 303.64,549.75 301.78,551.22 302.42,553.5 300.45,552.19 298.48,553.5 299.12,551.22 297.26,549.75 299.63,549.66"/>
<polygon points="314.22,540.31 315.04,542.53 317.41,542.63 315.55,544.1 316.19,546.37 314.22,545.06 312.25,546.37 312.89,544.1 311.03,542.63 313.4,542.53"/>
<polygon points="327.99,532.14 328.81,534.36 331.18,534.45 329.32,535.92 329.96,538.2 327.99,536.89 326.02,538.2 326.66,535.92 324.8,534.45 327.17,534.36"/>
<polygon points="341.76,522.98 342.58,525.2 344.95,525.3 343.09,526.77 343.73,529.04 341.76,527.73 339.79,529.04 340.43,526.77 338.57,525.3 340.94,525.2"/>
<polygon points="355.53,512.9 356.35,515.12 358.72,515.22 356.86,516.69 357.5,518.96 355.53,517.65 353.56,518.96 354.2,516.69 352.34,515.22 354.71,515.12"/>
<polygon points="369.3,501.96 370.12,504.18 372.49,504.28 370.63,505.74 371.27,508.02 369.3,506.71 367.33,508.02 367.97,505.74 366.11,504.28 368.48,504.18"/>
<polygon points="383.07,490.2 383.89,492.42 386.26,492.52 384.4,493.99 385.04,496.26 383.07,494.95 381.1,496.26 381.74,493.99 379.88,492.52 382.25,492.42"/>
<polygon points="396.84,477.68 397.66,479.9 400.03,480 398.17,481.47 398.81,483.74 396.84,482.43 394.87,483.74 395.51,481.47 393.65,480 396.02,479.9"/>
<polygon points="410.61,464.44 411.43,466.66 413.8,466.76 411.94,468.22 412.58,470.5 410.61,469.19 408.64,470.5 409.28,468.22 407.42,466.76 409.79,466.66"/>
<polygon points="424.38,450.52 425.2,452.74 427.57,452.83 425.71,454.3 426.35,456.58 424.38,455.27 422.41,456.58 423.05,454.3 421.19,452.83 423.56,452.74"/>
<polygon points="438.15,435.95 438.97,438.17 441.34,438.26 439.48,439.73 440.12,442.01 438.15,440.7 436.18,442.01 436.82,439.73 434.96,438.26 437.33,438.17"/>
<polygon points="451.92,420.76 452.74,422.98 455.11,423.08 453.25,424.55 453.89,426.82 451.92,425.51 449.95,426.82 450.59,424.55 448.73,423.08 451.1,422.98"/>
<polygon points="465.69,404.99 466.51,407.21 468.88,407.3 467.02,408.77 467.66,411.05 465.69,409.74 463.72,411.05 464.36,408.77 462.5,407.3 464.87,407.21"/>
<polygon points="479.46,388.65 480.28,390.86 482.65,390.96 480.79,392.43 481.43,394.71 479.46,393.4 477.49,394.71 478.13,392.43 476.27,390.96 478.64,390.86"/>
<polygon points="493.23,371.75 494.05,373.97 496.42,374.07 494.56,375.54 495.2,377.81 493.23,376.5 491.26,377.81 491.9,375.54 490.04,374.07 492.41,373.97"/>
<polygon points="507,354.33 507.82,356.54 510.19,356.64 508.33,358.11 508.97,360.39 507,359.08 505.03,360.39 505.67,358.11 503.81,356.64 506.18,356.54"/>
<polygon points="231.6,564.75 232.42,566.97 234.79,567.06 232.93,568.53 233.57,570.81 231.6,569.5 229.63,570.81 230.27,568.53 228.41,567.06 230.78,566.97"/>
<polygon points="245.37,564 246.19,566.22 248.56,566.32 246.7,567.79 247.34,570.06 245.37,568.75 243.4,570.06 244.04,567.79 242.18,566.32 244.55,566.22"/>
<polygon points="259.14,561.84 259.96,564.05 262.33,564.15 260.47,565.62 261.11,567.9 259.14,566.59 257.17,567.9 257.81,565.62 255.95,564.15 258.32,564.05"/>
<polygon points="272.91,558.36 273.73,560.57 276.1,560.67 274.24,562.14 274.88,564.42 272.91,563.11 270.94,564.42 271.58,562.14 269.72,560.67 272.09,560.57"/>
<polygon points="286.68,553.66 287.5,555.88 289.87,555.98 288.01,557.45 288.65,559.72 286.68,558.41 284.71,559.72 285.35,557.45 283.49,555.98 285.86,555.88"/>
<polygon points="300.45,547.85 301.27,550.07 303.64,550.17 301.78,551.64 302.42,553.91 300.45,552.6 298.48,553.91 299.12,551.64 297.26,550.17 299.63,550.07"/>
<polygon points="314.22,541.01 315.04,543.23 317.41,543.33 315.55,544.8 316.19,547.08 314.22,545.76 312.25,547.08 312.89,544.8 311.03,543.33 313.4,543.23"/>
<polygon points="327.99,533.23 328.81,535.45 331.18,535.54 329.32,537.01 329.96,539.29 327.99,537.98 326.02,539.29 326.66,537.01 324.8,535.54 327.17,535.45"/>
<polygon points="341.76,524.57 342.58,526.79 344.95,526.89 343.09,528.36 343.73,530.63 341.76,529.32 339.79,530.63 340.43,528.36 338.57,526.89 340.94,526.79"/>
<polygon points="355.53,515.12 356.35,517.33 358.72,517.43 356.86,518.9 357.5,521.18 355.53,519.87 353.56,521.18 354.2,518.9 352.34,517.43 354.71,517.33"/>
<polygon points="369.3,504.92 370.12,507.14 372.49,507.24 370.63,508.71 371.27,510.98 369.3,509.67 367.33,510.98 367.97,508.71 366.11,507.24 368.48,507.14"/>
<polygon points="383.07,494.05 383.89,496.27 386.26,496.37 384.4,497.83 385.04,500.11 383.07,498.8 381.1,500.11 381.74,497.83 379.88,496.37 382.25,496.27"/>
<polygon points="396.84,482.55 397.66,484.77 400.03,484.87 398.17,486.33 398.81,488.61 396.84,487.3 394.87,488.61 395.51,486.33 393.65,484.87 396.02,484.77"/>
<polygon points="410.61,470.47 411.43,472.69 413.8,472.78 411.94,474.25 412.58,476.53 410.61,475.22 408.64,476.53 409.28,474.25 407.42,472.78 409.79,472.69"/>
<polygon points="424.38,457.84 425.2,460.06 427.57,460.16 425.71,461.62 426.35,463.9 424.38,462.59 422.41,463.9 423.05,461.62 421.19,460.16 423.56,460.06"/>
<polygon points="438.15,444.7 438.97,446.92 441.34,447.02 439.48,448.49 440.12,450.76 438.15,449.45 436.18,450.76 436.82,448.49 434.96,447.02 437.33,446.92"/>
<polygon points="451.92,431.08 452.74,433.3 455.11,433.4 453.25,434.86 453.89,437.14 451.92,435.83 449.95,437.14 450.59,434.86 448.73,433.4 451.1,433.3"/>
<polygon points="465.69,417 466.51,419.21 468.88,419.31 467.02,420.78 467.66,423.06 465.69,421.75 463.72,423.06 464.36,420.78 462.5,419.31 464.87,419.21"/>
<polygon points="479.46,402.46 480.28,404.68 482.65,404.78 480.79,406.24 481.43,408.52 479.46,407.21 477.49,408.52 478.13,406.24 476.27,404.78 478.64,404.68"/>
<polygon points="493.23,387.49 494.05,389.7 496.42,389.8 494.56,391.27 495.2,393.55 493.23,392.24 491.26,393.55 491.9,391.27 490.04,389.8 492.41,389.7"/>
<polygon points="507,372.07 507.82,374.29 510.19,374.38 508.33,375.85 508.97,378.13 507,376.82 505.03,378.13 505.67,375.85 503.81,374.38 506.18,374.29"/>
<polygon points="231.6,564.75 232.42,566.97 234.79,567.06 232.93,568.53 233.57,570.81 231.6,569.5 229.63,570.81 230.27,568.53 228.41,567.06 230.78,566.97"/>
<polygon points="245.37,564 246.19,566.22 248.56,566.31 246.7,567.78 247.34,570.06 245.37,568.75 243.4,570.06 244.04,567.78 242.18,566.31 244.55,566.22"/>
<polygon points="259.14,561.84 259.96,564.06 262.33,564.15 260.47,565.62 261.11,567.9 259.14,566.59 257.17,567.9 257.81,565.62 255.95,564.15 258.32,564.06"/>
<polygon points="272.91,558.39 273.73,560.61 276.1,560.71 274.24,562.18 274.88,564.45 272.91,563.14 270.94,564.45 271.58,562.18 269.72,560.71 272.09,560.61"/>
<polygon points="286.68,553.79 287.5,556 289.87,556.1 288.01,557.57 288.65,559.85 286.68,558.54 284.71,559.85 285.35,557.57 283.49,556.1 285.86,556"/>
<polygon points="300.45,548.13 301.27,550.35 303.64,550.45 301.78,551.91 302.42,554.19 300.45,552.88 298.48,554.19 299.12,551.91 297.26,550.45 299.63,550.35"/>
<polygon points="314.22,541.53 315.04,543.75 317.41,543.84 315.55,545.31 316.19,547.59 314.22,546.28 312.25,547.59 312.89,545.31 311.03,543.84 313.4,543.75"/>
<polygon points="327.99,534.07 328.81,536.29 331.18,536.39 329.32,537.86 329.96,540.13 327.99,538.82 326.02,540.13 326.66,537.86 324.8,536.39 327.17,536.29"/>
<polygon points="341.76,525.86 342.58,528.07 344.95,528.17 343.09,529.64 343.73,531.92 341.76,530.61 339.79,531.92 340.43,529.64 338.57,528.17 340.94,528.07"/>
<polygon points="355.53,516.95 356.35,519.17 358.72,519.27 356.86,520.74 357.5,523.01 355.53,521.7 353.56,523.01 354.2,520.74 352.34,519.27 354.71,519.17"/>
<polygon points="369.3,507.44 370.12,509.65 372.49,509.75 370.63,511.22 371.27,513.5 369.3,512.19 367.33,513.5 367.97,511.22 366.11,509.75 368.48,509.65"/>
<polygon points="383.07,497.37 383.89,499.59 386.26,499.68 384.4,501.15 385.04,503.43 383.07,502.12 381.1,503.43 381.74,501.15 379.88,499.68 382.25,499.59"/>
<polygon points="396.84,486.8 397.66,489.02 400.03,489.12 398.17,490.58 398.81,492.86 396.84,491.55 394.87,492.86 395.51,490.58 393.65,489.12 396.02,489.02"/>
<polygon points="410.61,475.78 411.43,478 413.8,478.1 411.94,479.57 412.58,481.84 410.61,480.53 408.64,481.84 409.28,479.57 407.42,478.1 409.79,478"/>
<polygon points="424.38,464.35 425.2,466.57 427.57,466.66 425.71,468.13 426.35,470.41 424.38,469.1 422.41,470.41 423.05,468.13 421.19,466.66 423.56,466.57"/>
<polygon points="438.15,452.53 438.97,454.75 441.34,454.85 439.48,456.31 440.12,458.59 438.15,457.28 436.18,458.59 436.82,456.31 434.96,454.85 437.33,454.75"/>
<polygon points="451.92,440.35 452.74,442.57 455.11,442.66 453.25,444.13 453.89,446.41 451.92,445.1 449.95,446.41 450.59,444.13 448.73,442.66 451.1,442.57"/>
<polygon points="465.69,427.81 466.51,430.03 468.88,430.13 467.02,431.6 467.66,433.87 465.69,432.56 463.72,433.87 464.36,431.6 462.5,430.13 464.87,430.03"/>
<polygon points="479.46,414.93 480.28,417.15 482.65,417.25 480.79,418.72 481.43,420.99 479.46,419.68 477.49,420.99 478.13,418.72 476.27,417.25 478.64,417.15"/>
<polygon points="493.23,401.7 494.05,403.92 496.42,404.02 494.56,405.48 495.2,407.76 493.23,406.45 491.26,407.76 491.9,405.48 490.04,404.02 492.41,403.92"/>
<polygon points="507,388.11 507.82,390.32 510.19,390.42 508.33,391.89 508.97,394.17 507,392.86 505.03,394.17 505.67,391.89 503.81,390.42 506.18,390.32"/>
</g>
<rect x="240.4" y="335" width="85.3" height="65.5" fill="#fff" stroke="#4a4a4a" stroke-width="1.1"/>
<path d="M243.5 343.9H262" stroke="#0072BD" stroke-width="5.7"/>
<circle cx="262" cy="343.9" r="3.9999999999999996" fill="#0072BD"/>
<path d="M243.5 359.8H262" stroke="#D95319" stroke-width="5.7"/>
<circle cx="262" cy="359.8" r="3.9999999999999996" fill="#D95319"/>
<path d="M243.5 376H262" stroke="#EDB120" stroke-width="5.7"/>
<circle cx="262" cy="376" r="3.9999999999999996" fill="#EDB120"/>
<g fill="none" stroke="#000" stroke-width="1.1" stroke-linejoin="round"><polygon points="261.1,388.8 261.83,390.79 263.95,390.87 262.29,392.19 262.86,394.23 261.1,393.05 259.34,394.23 259.91,392.19 258.25,390.87 260.37,390.79"/></g>
<g font-family="'Liberation Sans', sans-serif" font-weight="bold" font-size="12.3px" fill="#111" stroke="#111" stroke-width="0.2">
<text x="281.4" y="348">Case 1</text>
<text x="281.4" y="365">Case 2</text>
<text x="281.4" y="380">Case 3</text>
<text x="281.4" y="397">Ref</text>
</g>
<text x="297.5" y="630" font-family="'Liberation Serif', serif" font-size="17.3px" fill="#000" stroke="#000" stroke-width="0.15">(c) Results:</text>
<g font-family="'Liberation Serif', serif" fill="#000" stroke="#000" stroke-width="0.15">
<text x="384" y="630" font-size="21px" font-style="italic">m</text>
<text x="399.3" y="630.6" font-size="21.5px">(</text>
<text x="407.8" y="630" font-size="21px" font-style="italic">x</text>
<text x="417" y="630.6" font-size="21.5px">)</text>
</g>
</svg>
</body></html>
